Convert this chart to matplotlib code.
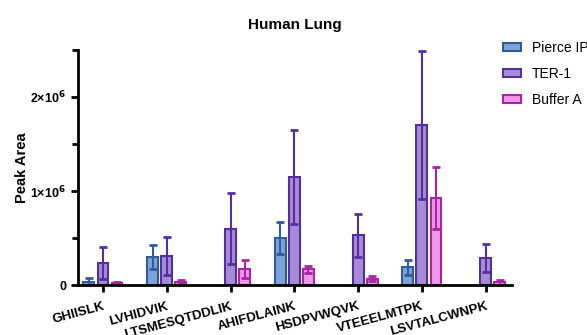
import numpy as np
import matplotlib
matplotlib.use("Agg")
import matplotlib.pyplot as plt

plt.rcParams['font.family'] = ['Liberation Sans', 'DejaVu Sans']

peptides = ['GHIISLK', 'LVHIDVIK', 'LTSMESQTDDLIK', 'AHIFDLAINK',
            'HSDPVWQVK', 'VTEEELMTPK', 'LSVTALCWNPK']

# means and SD (NaN = no bar)
pierce_mean = [0.030e6, 0.300e6, np.nan, 0.500e6, np.nan, 0.190e6, np.nan]
pierce_sd = [0.045e6, 0.130e6, np.nan, 0.170e6, np.nan, 0.080e6, np.nan]
ter1_mean = [0.240e6, 0.310e6, 0.600e6, 1.145e6, 0.530e6, 1.705e6, 0.290e6]
ter1_sd = [0.170e6, 0.200e6, 0.375e6, 0.500e6, 0.230e6, 0.785e6, 0.150e6]
buffer_mean = [0.020e6, 0.030e6, 0.170e6, 0.167e6, 0.070e6, 0.930e6, 0.030e6]
buffer_sd = [0.012e6, 0.020e6, 0.095e6, 0.040e6, 0.025e6, 0.330e6, 0.025e6]

series = [
    ('Pierce IP', pierce_mean, pierce_sd, '#7da3d8', '#2f5c9c'),
    ('TER-1', ter1_mean, ter1_sd, '#a78bd6', '#5330a0'),
    ('Buffer A', buffer_mean, buffer_sd, '#ee98e9', '#a826a0'),
]

fig = plt.figure(figsize=(5.87, 3.35), dpi=100)
ax = fig.add_axes([0.133, 0.149, 0.739, 0.702])

x = np.arange(len(peptides))
width = 0.17
step = 0.22
for i, (name, mean, sd, fc, ec) in enumerate(series):
    pos = x + (i - 1) * step
    ax.bar(pos, mean, width, color=fc, edgecolor=ec, linewidth=1.5, label=name)
    ax.errorbar(pos, mean, yerr=sd, fmt='none', ecolor=ec, elinewidth=1.5,
                capsize=3, capthick=2)

ax.set_xlim(-0.39, 6.41)
ax.set_ylim(0, 2.5e6)
ax.set_yticks([0, 1e6, 2e6])
ax.set_yticklabels(['0', r'1×10$^{\mathbf{6}}$', r'2×10$^{\mathbf{6}}$'],
                   fontsize=9, fontweight='bold')
ax.set_yticks([0.5e6, 1.5e6, 2.5e6], minor=True)
ax.set_xticks(x)
ax.set_xticklabels(peptides, rotation=15, ha='right', rotation_mode='anchor',
                   fontsize=9.5, fontweight='bold')

for s in ['top', 'right']:
    ax.spines[s].set_visible(False)
for s in ['left', 'bottom']:
    ax.spines[s].set_linewidth(2)
ax.tick_params(axis='both', which='major', length=5, width=2)
ax.tick_params(axis='y', which='minor', length=4, width=2)
ax.tick_params(axis='x', pad=6)

ax.set_ylabel('Peak Area', fontsize=10.5, fontweight='bold', labelpad=1)
ax.set_title('Human Lung', fontsize=11, fontweight='bold', pad=15)

fig.legend(loc='upper left', bbox_to_anchor=(503 / 587, 1 - 41 / 335),
           frameon=False, fontsize=10, handlelength=1.3, handleheight=0.55,
           handletextpad=0.8, labelspacing=0.85, borderpad=0, borderaxespad=0)

fig.savefig('out.png', dpi=100)
